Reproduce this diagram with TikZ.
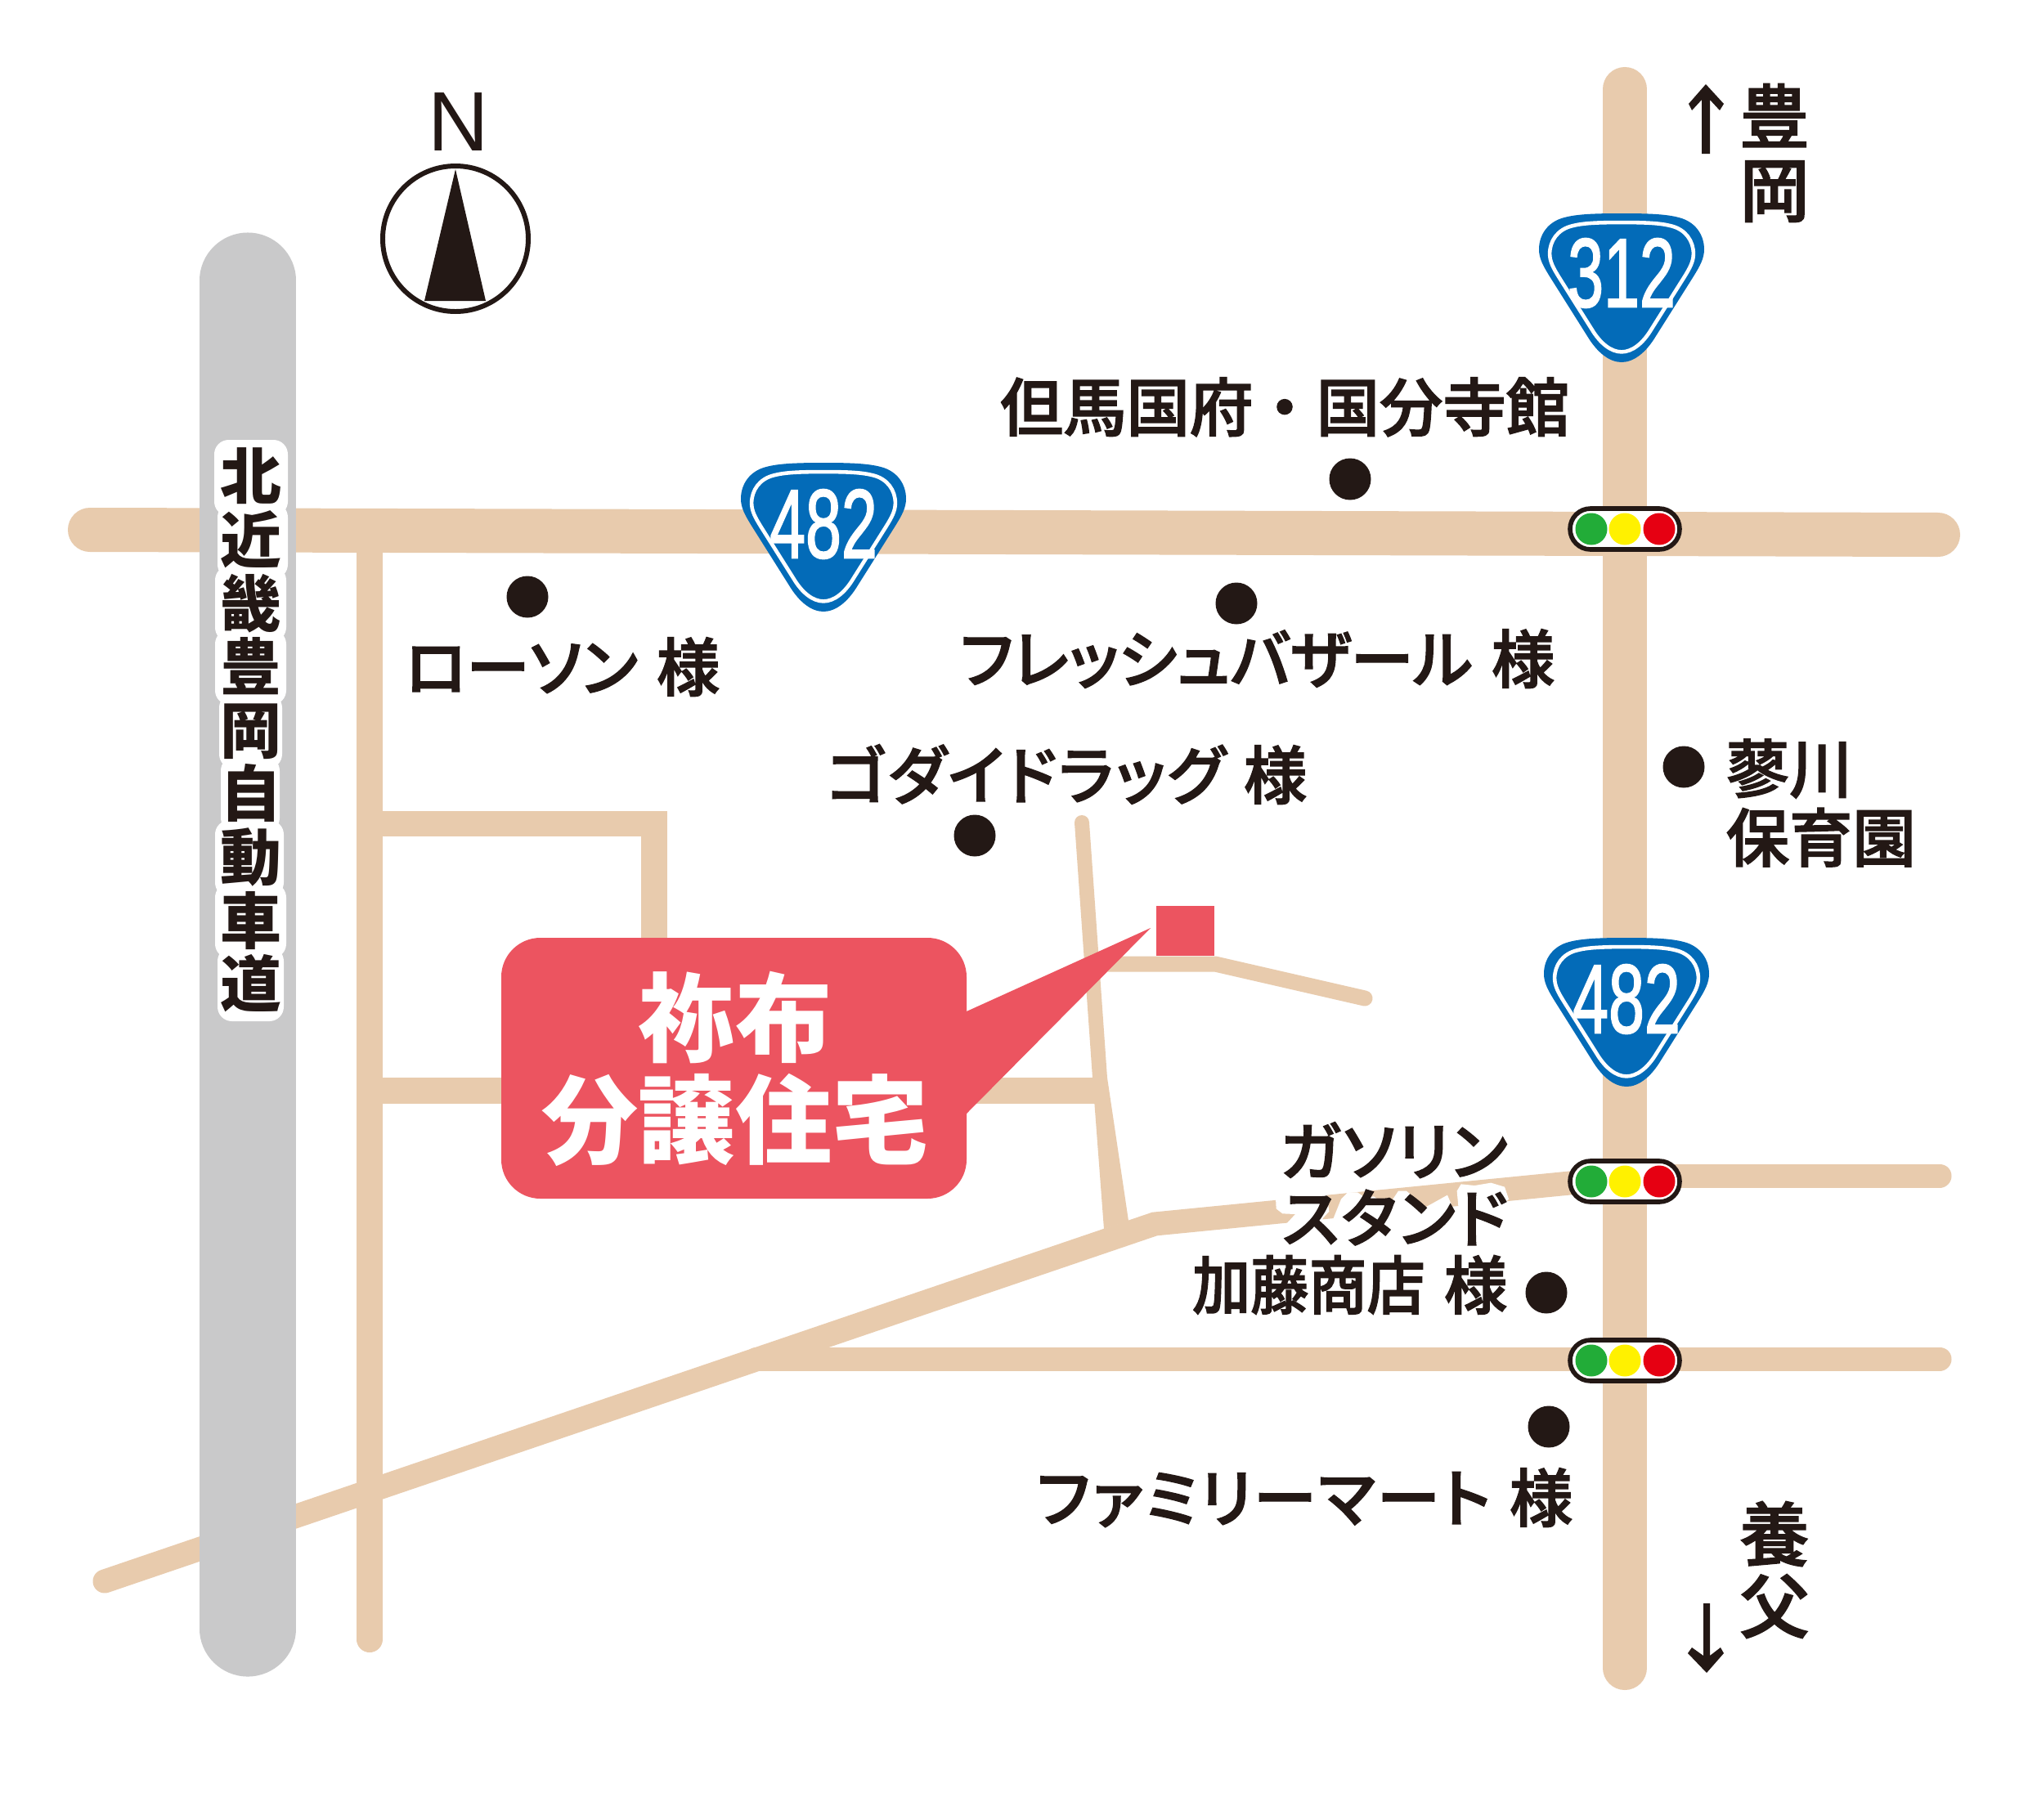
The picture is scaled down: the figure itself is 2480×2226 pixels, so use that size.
\documentclass[tikz,border=0pt]{standalone}
\usepackage{fontspec}
\setmainfont{Liberation Sans}
\newfontfamily\digf[FakeBold=1.8]{Liberation Sans}
\newfontfamily\cjk{Noto Sans CJK JP}
\newfontfamily\cjkm[FakeBold=2]{Noto Sans CJK JP Medium}
\newfontfamily\kanaf[RawFeature=+palt,FakeBold=2]{Noto Sans CJK JP Medium}
\newfontfamily\kanab[RawFeature=+palt,FakeBold=2,LetterSpace=3.5]{Noto Sans CJK JP Medium}
\definecolor{roadc}{HTML}{E8CBAD}
\definecolor{expc}{HTML}{C9C9CA}
\definecolor{ink}{HTML}{231815}
\definecolor{shieldc}{HTML}{036BB8}
\definecolor{callc}{HTML}{EC5460}
\definecolor{sigg}{HTML}{22AC38}
\definecolor{sigy}{HTML}{FFF100}
\definecolor{sigr}{HTML}{E60012}
\tikzset{
  road/.style={draw=roadc,line width=#1*0.2845pt,line cap=round,line join=miter},
  road/.default=30,
  spot/.style={fill=ink},
  lab/.style={text=ink,inner sep=0pt,font=\fontsize{22}{23.3}\selectfont\cjkm},
  kana/.style={text=ink,inner sep=0pt,font=\fontsize{22}{23.3}\selectfont\kanaf},
  kanawide/.style={text=ink,inner sep=0pt,font=\fontsize{22}{23.3}\selectfont\kanab},
  halo/.style={fill=white,rounded corners=5pt},
}
\newcommand{\shieldpath}{(0,0) .. controls (-35,0) and (-55,1) .. (-70,5) .. controls (-90,10) and (-101,26) .. (-101,44) .. controls (-101,55) and (-96,64) .. (-88,77) -- (-42,150) .. controls (-30,170) and (-15,182) .. (0,182) .. controls (15,182) and (30,170) .. (42,150) -- (88,77) .. controls (96,64) and (101,55) .. (101,44) .. controls (101,26) and (90,10) .. (70,5) .. controls (55,1) and (35,0) .. (0,0) -- cycle}
\newcommand{\shieldsign}[4]{%
  \begin{scope}[shift={(#1,#2)}]
    \fill[shieldc] \shieldpath;
    \begin{scope}[shift={(0,85)},scale=.87,shift={(0,-85)}]
      \draw[white,line width=1.3pt] \shieldpath;
    \end{scope}
    \node[text=white,inner sep=0pt,font=\fontsize{34}{34}\selectfont\digf] at (0,#4) {\scalebox{.66}[1]{#3}};
  \end{scope}}
\newcommand{\signal}[1]{%
  \draw[ink,fill=white,line width=1.6pt,rounded corners=7.1pt] (1920,#1-25) rectangle (2054,#1+25);
  \fill[sigg] (1946,#1) circle [radius=19.5];
  \fill[sigy] (1987,#1) circle [radius=19.5];
  \fill[sigr] (2029,#1) circle [radius=19.5];}
\begin{document}
\begin{tikzpicture}[x=0.01cm,y=-0.01cm]
\useasboundingbox (0,0) rectangle (2480,2226);
\fill[white] (0,0) rectangle (2480,2226);
% minor roads
\draw[road=29] (128,1934) -- (1412,1497) -- (1960,1443);
\draw[road=29] (1987,1438) -- (2372,1438);
\draw[road=29] (925,1662) -- (2372,1662);
\draw[road=32,line cap=butt] (452,650) -- (452,1334);
\draw[road=32] (452,1000) -- (452,2005);
\draw[road=31,line cap=butt] (452,1007) -- (800,1007) -- (800,1180);
\draw[road=32,line cap=butt] (452,1334) -- (1345,1334);
\fill[roadc] (1314,1006) -- (1336,1318) -- (1350,1503) -- (1380,1493) -- (1354,1318) -- (1332,1006) -- cycle;
\fill[roadc] (1323,1006) circle [radius=9];
\draw[road=19] (1345,1179) -- (1486,1179) -- (1669,1221);
% main roads
\draw[road=54] (110,648) -- (2370,654);
\draw[road=54] (1987,109) -- (1987,2040);
% expressway
\draw[draw=expc,line width=117*0.2845pt,line cap=round] (303,343) -- (303,1992);
% halos
\begin{scope}[shift={(1440,1350)},scale=1/3]
  \fill[white] (360,345) -- (362,385) -- (385,403) -- (432,405) -- (395,445) -- (530,445) -- (533,420) -- (556,395) -- (548,335) -- cycle;
  \fill[white] (560,450) -- (600,350) -- (625,325) -- (660,325) -- (690,345) -- (720,340) -- (770,375) -- (780,385) -- (790,350) -- (810,320) -- (840,320) -- (880,355) -- (900,385) -- (945,360) -- (990,335) -- (1005,370) -- (985,450) -- cycle;
  \fill[white] (1030,375) -- (1025,320) -- (1040,295) -- (1090,300) -- (1150,290) -- (1200,305) -- (1215,350) -- (1180,380) -- (1100,450) -- (1030,450) -- cycle;
\end{scope}
\fill[halo] (262,538) rectangle (352,631);
\fill[halo] (266,615) rectangle (352,708);
\fill[halo] (263,692) rectangle (350,785);
\fill[halo] (263,770) rectangle (350,862);
\fill[halo] (268,848) rectangle (345,940);
\fill[halo] (270,925) rectangle (342,1018);
\fill[halo] (263,1003) rectangle (347,1097);
\fill[halo] (263,1080) rectangle (350,1172);
\fill[halo] (266,1158) rectangle (347,1249);
\node[lab,align=center,font=\fontsize{21.3}{22.08}\selectfont\cjk\bfseries] (hw) at (307,893) {北\\近\\畿\\豊\\岡\\自\\動\\車\\道};
% house and callout
\fill[callc] (1414,1108) rectangle (1485,1169);
\fill[callc,rounded corners=13.6pt] (613,1147) rectangle (1182,1466);
\fill[callc] (1182,1237) -- (1407,1135) -- (1182,1362) -- cycle;
\node[text=white,inner sep=0pt,align=center,font=\fontsize{33.6}{35.6}\selectfont\cjk\bfseries] (call) at (899,1307) {祢布\\分譲住宅};
% compass
\draw[ink,line width=1.7pt,fill=white] (557,292) circle [radius=89];
\fill[ink] (557,207) -- (594,368) -- (519,368) -- cycle;
\node[text=ink,inner sep=0pt,anchor=base,font=\fontsize{29.3}{30}\selectfont] (north) at (561,184) {N};
% shields
\shieldsign{1983}{261}{312}{73}
\shieldsign{1007}{566}{482}{75}
\shieldsign{1989}{1147}{482}{75}
% signals
\signal{647}
\signal{1445}
\signal{1664}
% spots
\fill[spot] (1651,586) circle [radius=25.5];
\fill[spot] (645,730) circle [radius=25.5];
\fill[spot] (1512,738) circle [radius=25.5];
\fill[spot] (1192,1022) circle [radius=25.5];
\fill[spot] (2059,938) circle [radius=25.5];
\fill[spot] (1891,1581) circle [radius=25.5];
\fill[spot] (1894,1745) circle [radius=25.5];
% arrows
\fill[ink] (2086,103) -- (2108,127) -- (2103,135) -- (2091,122) -- (2091,188) -- (2081,188) -- (2081,122) -- (2069,135) -- (2065,127) -- cycle;
\fill[ink] (2087,2046) -- (2108,2022) -- (2104,2015) -- (2091,2025) -- (2091,1961) -- (2083,1961) -- (2083,2025) -- (2069,2015) -- (2064,2022) -- cycle;
% labels
\node[lab,anchor=base] (l1) at (1571,527) {但馬国府・国分寺館};
\node[kana,anchor=base east] (l2) at (1902,835) {フレッシュバザール\cjkm\hspace{.3em}様};
\node[kana,anchor=base east] (l3) at (881,845) {ローソン\cjkm\hspace{.3em}様};
\node[kanawide,anchor=base east] (l4) at (1599,977) {ゴダイドラッグ\cjkm\hspace{.3em}様};
\node[lab,align=left,anchor=west,font=\fontsize{22}{24}\selectfont\cjkm] (l5) at (2110,982) {蓼川\\保育園};
\node[kanawide,align=right,anchor=east] (l6) at (1844,1490) {ガソリン\hspace{.15em}\\スタンド\hspace{.15em}\\{\kanaf\scalebox{.92}[1]{加藤商店}}\cjkm\hspace{.3em}様};
\node[kanawide,anchor=base east] (l7) at (1924,1861) {ファミリーマート\cjkm\hspace{.3em}様};
\node[lab,align=center,font=\fontsize{24.2}{25.6}\selectfont\cjkm] (l8) at (2170,187) {豊\\岡};
\node[lab,align=center,font=\fontsize{24.2}{25}\selectfont\cjkm] (l9) at (2170,1920) {養\\父};
\end{tikzpicture}
\end{document}
